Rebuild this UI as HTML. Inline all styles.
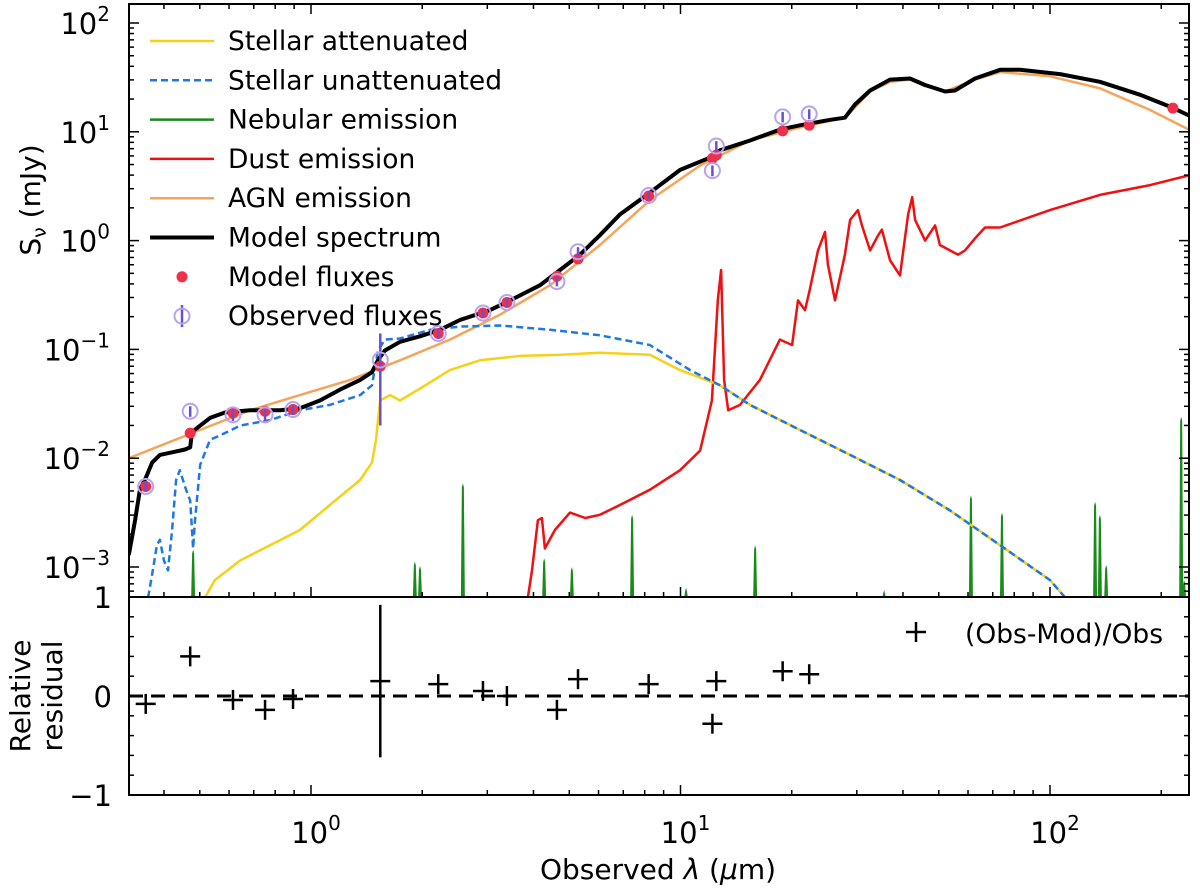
<!DOCTYPE html>
<html><head><meta charset="utf-8"><style>
html,body{margin:0;padding:0;background:#fff;}
svg{display:block;font-family:"DejaVu Sans","Liberation Sans",sans-serif;}
</style></head><body>
<svg id="chart" width="1200" height="892" viewBox="0 0 1200 892" xmlns="http://www.w3.org/2000/svg">
<defs><clipPath id="clipMain"><rect x="129" y="4" width="1060" height="593"/></clipPath>
<clipPath id="clipRes"><rect x="129" y="597" width="1060" height="198"/></clipPath></defs>
<g id="main"></g>
<g id="res"></g>
</svg>
<script>
// ---- data (log10 wavelength in µm, log10 flux in mJy) ----
const modelLogWave=[-0.493,-0.476,-0.463,-0.447,-0.430,-0.409,-0.368,-0.341,-0.327,-0.322,-0.300,-0.273,-0.233,-0.165,-0.084,-0.030,0.024,0.078,0.133,0.165,0.181,0.200,0.241,0.295,0.349,0.403,0.484,0.539,0.620,0.674,0.728,0.782,0.836,0.917,0.999,1.085,1.107,1.188,1.269,1.323,1.405,1.445,1.472,1.513,1.567,1.621,1.662,1.716,1.743,1.797,1.865,1.919,2.027,2.135,2.244,2.333,2.376];
const modelLogFlux=[-2.89,-2.57,-2.29,-2.18,-2.04,-1.97,-1.94,-1.92,-1.90,-1.76,-1.70,-1.63,-1.58,-1.56,-1.56,-1.54,-1.47,-1.37,-1.28,-1.21,-1.10,-1.01,-0.93,-0.88,-0.82,-0.73,-0.64,-0.55,-0.41,-0.27,-0.13,0.05,0.24,0.44,0.65,0.77,0.83,0.92,1.02,1.06,1.11,1.13,1.25,1.38,1.48,1.49,1.43,1.37,1.38,1.49,1.57,1.57,1.53,1.46,1.34,1.22,1.15];
const agnLogWave=[-0.493,-0.300,-0.165,-0.030,0.106,0.241,0.376,0.512,0.647,0.782,0.917,1.053,1.188,1.323,1.445,1.513,1.567,1.621,1.662,1.716,1.797,1.865,2.000,2.135,2.271,2.376];
const agnLogFlux=[-2.00,-1.74,-1.56,-1.42,-1.28,-1.10,-0.91,-0.68,-0.41,-0.04,0.37,0.69,0.92,1.04,1.13,1.37,1.46,1.48,1.42,1.37,1.48,1.55,1.51,1.40,1.20,1.02];
const unattLogWave=[-0.441,-0.430,-0.417,-0.409,-0.398,-0.387,-0.376,-0.365,-0.355,-0.338,-0.327,-0.319,-0.314,-0.300,-0.273,-0.246,-0.192,-0.111,-0.030,0.051,0.133,0.165,0.181,0.200,0.241,0.322,0.403,0.512,0.647,0.782,0.917,1.026,1.107,1.188,1.323,1.459,1.594,1.729,1.865,2.000,2.041];
const unattLogFlux=[-3.28,-3.07,-2.80,-2.75,-2.94,-3.03,-2.66,-2.20,-2.11,-2.29,-2.39,-2.83,-2.57,-2.06,-1.83,-1.79,-1.70,-1.65,-1.56,-1.51,-1.42,-1.33,-1.01,-0.91,-0.90,-0.82,-0.79,-0.78,-0.82,-0.87,-0.96,-1.19,-1.33,-1.51,-1.74,-1.97,-2.20,-2.48,-2.80,-3.12,-3.28];
const attLogWave=[-0.287,-0.260,-0.192,-0.111,-0.030,0.051,0.133,0.165,0.176,0.187,0.214,0.241,0.295,0.376,0.457,0.566,0.674,0.782,0.917,0.999,1.107,1.188,1.323,1.459,1.594,1.729,1.865,2.000,2.041];
const attLogFlux=[-3.28,-3.12,-2.94,-2.80,-2.66,-2.43,-2.20,-2.04,-1.83,-1.47,-1.42,-1.47,-1.36,-1.19,-1.10,-1.06,-1.05,-1.03,-1.05,-1.19,-1.33,-1.51,-1.74,-1.97,-2.20,-2.48,-2.80,-3.12,-3.28];
const dustLogWave=[0.587,0.598,0.614,0.625,0.633,0.660,0.701,0.742,0.782,0.836,0.917,0.999,1.053,1.085,1.101,1.110,1.118,1.129,1.161,1.215,1.269,1.302,1.318,1.337,1.350,1.372,1.391,1.399,1.418,1.445,1.459,1.480,1.491,1.513,1.535,1.545,1.567,1.594,1.616,1.627,1.635,1.662,1.689,1.702,1.729,1.751,1.770,1.797,1.824,1.865,2.000,2.135,2.271,2.376];
const dustLogFlux=[-3.28,-3.03,-2.57,-2.55,-2.83,-2.66,-2.50,-2.55,-2.52,-2.43,-2.29,-2.11,-1.93,-1.47,-0.55,-0.27,-1.28,-1.56,-1.51,-1.28,-0.91,-0.96,-0.55,-0.64,-0.45,-0.09,0.08,-0.22,-0.55,-0.13,0.19,0.28,0.14,-0.09,0.05,0.10,-0.18,-0.32,0.24,0.40,0.19,0.00,0.14,-0.04,-0.09,-0.13,-0.09,0.02,0.12,0.12,0.28,0.42,0.51,0.60];
const nebLogWave=[-0.319,0.281,0.295,0.411,0.631,0.706,0.869,1.015,1.202,1.551,1.786,1.870,2.122,2.135,2.152,2.355,2.363];
const nebLogFlux=[-2.84,-2.95,-2.99,-2.23,-2.92,-3.00,-2.52,-3.19,-2.80,-3.21,-2.34,-2.50,-2.40,-2.52,-2.98,-1.62,-3.12];
// photometry (µm, mJy)
const fluxWave=[0.357,0.471,0.615,0.751,0.894,1.54,2.21,2.92,3.39,4.63,5.28,8.2,12.2,12.5,18.9,22.3,215];
const modelFlux=[0.0055,0.017,0.026,0.027,0.028,0.070,0.14,0.216,0.27,0.47,0.68,2.57,5.7,6.1,10.2,11.5,16.5];
const obsFlux=[0.0055,0.027,0.025,0.025,0.028,0.080,0.14,0.216,0.27,0.42,0.79,2.6,4.4,7.4,13.7,14.6,null];
const obsErr=[0.0006,0.003,0.003,0.003,0.003,0.06,0.015,0.02,0.025,0.04,0.08,0.25,0.5,0.8,1.5,1.5,null];
const residual=[-0.08,0.40,-0.04,-0.14,-0.03,0.15,0.12,0.05,0.0,-0.14,0.17,0.12,-0.28,0.15,0.25,0.22];
const residualErr=[0.09,0.03,0.04,0.03,0.06,0.77,0.09,0.06,0.02,0.03,0.02,0.03,0.03,0.03,0.08,0.04];
const yTickExp=[-3,-2,-1,0,1,2];
const xTickExp=[0,1,2];
const resTicks=[1,0,-1];
const legendLabels=["Stellar attenuated","Stellar unattenuated","Nebular emission","Dust emission","AGN emission","Model spectrum","Model fluxes","Observed fluxes"];

const NS="http://www.w3.org/2000/svg";
const L=129,R=1189,T=4,MB=597,RB=795;
const X0=311,DEC=369.5,Y2=23,YDEC=108.8;
const xl=lw=>X0+lw*DEC;
const x=w=>xl(Math.log10(w));
const yl=ls=>Y2+(2-ls)*YDEC;
const y=s=>yl(Math.log10(s));
const yr=v=>696-v*99;
const main=document.getElementById('main'),res=document.getElementById('res');
function mk(tag,attrs,parent){const e=document.createElementNS(NS,tag);for(const k in attrs)e.setAttribute(k,attrs[k]);parent.appendChild(e);return e;}

const gm=mk('g',{'clip-path':'url(#clipMain)'},main);
function curve(lw,ls,stroke,width,dash,name){
  let d=lw.map((v,i)=>(i?'L':'M')+xl(v).toFixed(1)+','+yl(ls[i]).toFixed(1)).join('');
  const p=mk('path',{d:d,fill:'none',stroke:stroke,'stroke-width':width,'stroke-linejoin':'round'},gm);
  if(dash)p.setAttribute('stroke-dasharray',dash);
  
  
}
nebLogWave.forEach((lw,i)=>{
  const cx=xl(lw),ty=yl(nebLogFlux[i]);
  const p=mk('path',{d:`M${cx-2},${MB+2}L${cx-1},${ty+4}L${cx},${ty}L${cx+1},${ty+4}L${cx+2},${MB+2}Z`,fill:'#1a8a1a'},gm);
  
  
});
curve(dustLogWave,dustLogFlux,'#f01010',2.5,null,'dust-emission-curve');
curve(agnLogWave,agnLogFlux,'#f5a55a',2.5,null,'agn-emission-curve');
curve(attLogWave,attLogFlux,'#f7d117',2.5,null,'stellar-attenuated-curve');
curve(unattLogWave,unattLogFlux,'#1f78e0',2.5,'7,4','stellar-unattenuated-curve');
curve(modelLogWave,modelLogFlux,'#000',4,null,'model-spectrum-curve');
fluxWave.forEach((w,i)=>{
  const c=mk('circle',{cx:x(w),cy:y(modelFlux[i]),r:5.5,fill:'#f0304a'},gm);
  
  
});
fluxWave.forEach((w,i)=>{
  if(obsFlux[i]==null)return;
  const cx=x(w);
  const l=mk('line',{x1:cx,x2:cx,y1:y(obsFlux[i]+obsErr[i]),y2:y(Math.max(obsFlux[i]-obsErr[i],1e-4)),stroke:'#6a4fd0','stroke-width':2.5},gm);
  
  
  const c=mk('circle',{cx:cx,cy:y(obsFlux[i]),r:7.5,fill:'none',stroke:'#b9a3ec','stroke-width':2},gm);
  
  
});
const lg=mk('g',{},main);


const lcol=['#f7d117','#1f78e0','#1a8a1a','#f01010','#f5a55a','#000'];
legendLabels.forEach((t,i)=>{
  const yy=41+i*39.3;
  if(i<6){const l=mk('line',{x1:150,x2:214,y1:yy,y2:yy,stroke:lcol[i],'stroke-width':i==5?4:2.5},lg);
    if(i==1)l.setAttribute('stroke-dasharray','7,4');}
  else if(i==6){mk('circle',{cx:182,cy:yy,r:5.5,fill:'#f0304a'},lg);}
  else {mk('line',{x1:182,x2:182,y1:yy-11,y2:yy+11,stroke:'#6a4fd0','stroke-width':2.5},lg);mk('circle',{cx:182,cy:yy,r:7.5,fill:'none',stroke:'#b9a3ec','stroke-width':2},lg);}
  const tx=mk('text',{x:228,y:yy+9,'font-size':26.5,fill:'#000'},lg);tx.textContent=t;
  
  
});
mk('rect',{x:L,y:T,width:R-L,height:MB-T,fill:'none',stroke:'#000','stroke-width':2},main);
const tk=mk('g',{stroke:'#000','stroke-width':1.5},main);
for(let e=-4;e<=2;e++){for(let m=1;m<10;m++){const yy=y(m*Math.pow(10,e));if(yy<T||yy>MB)continue;const len=m==1?10:5;
  mk('line',{x1:L,x2:L+len,y1:yy,y2:yy},tk);mk('line',{x1:R,x2:R-len,y1:yy,y2:yy},tk);}}
for(let e=-1;e<=2;e++){for(let m=1;m<10;m++){const xx=x(m*Math.pow(10,e));if(xx<L||xx>R)continue;const len=m==1?10:5;
  mk('line',{x1:xx,x2:xx,y1:T,y2:T+len},tk);mk('line',{x1:xx,x2:xx,y1:MB,y2:MB-len},tk);
  mk('line',{x1:xx,x2:xx,y1:RB,y2:RB-len},tk);}}
yTickExp.forEach(e=>{
  const t=mk('text',{x:110,y:y(Math.pow(10,e))+11,'font-size':29,'text-anchor':'end',fill:'#000'},main);
  t.innerHTML='10<tspan dy="-13" font-size="20">'+(e<0?'\u2212'+(-e):e)+'</tspan>';
  
  
});
const yt=mk('text',{transform:'translate(40,200) rotate(-90)','font-size':28,'text-anchor':'middle',fill:'#000'},main);
yt.innerHTML='S<tspan dy="6" font-size="19">ν</tspan><tspan dy="-6"> (mJy)</tspan>';


const gr=mk('g',{'clip-path':'url(#clipRes)'},res);
mk('line',{x1:L,x2:R,y1:yr(0),y2:yr(0),stroke:'#000','stroke-width':3,'stroke-dasharray':'14,8'},gr);
residual.forEach((v,i)=>{
  const cx=x(fluxWave[i]),cy=yr(v);
  const g=mk('g',{stroke:'#000','stroke-width':2.5},gr);
  
  
  mk('line',{x1:cx-10,x2:cx+10,y1:cy,y2:cy},g);
  const h=Math.max(10,residualErr[i]*99);
  mk('line',{x1:cx,x2:cx,y1:cy-h,y2:cy+h},g);
});
const rl=mk('g',{stroke:'#000','stroke-width':2.5},res);


mk('line',{x1:906,x2:926,y1:632,y2:632},rl);mk('line',{x1:916,x2:916,y1:622,y2:642},rl);
const rlt=mk('text',{x:965,y:643,'font-size':26.5,fill:'#000',stroke:'none'},rl);rlt.textContent='(Obs-Mod)/Obs';
mk('rect',{x:L,y:MB,width:R-L,height:RB-MB,fill:'none',stroke:'#000','stroke-width':2},res);
const rt=mk('g',{stroke:'#000','stroke-width':1.5},res);
for(let v=-1;v<=1.001;v+=0.2){const yy=yr(v);const len=Math.abs(Math.round(v*10))%10==0?10:5;
  mk('line',{x1:L,x2:L+len,y1:yy,y2:yy},rt);mk('line',{x1:R,x2:R-len,y1:yy,y2:yy},rt);}
resTicks.forEach(v=>{
  const t=mk('text',{x:112,y:yr(v)+11,'font-size':29,'text-anchor':'end',fill:'#000'},res);
  t.textContent=v<0?'\u2212'+(-v):String(v);
  
  
});
const r1=mk('text',{transform:'translate(30,696) rotate(-90)','font-size':28,'text-anchor':'middle',fill:'#000'},res);r1.textContent='Relative';


const r2=mk('text',{transform:'translate(62,696) rotate(-90)','font-size':28,'text-anchor':'middle',fill:'#000'},res);r2.textContent='residual';


xTickExp.forEach(e=>{
  const t=mk('text',{x:x(Math.pow(10,e))+5,y:843,'font-size':29,'text-anchor':'middle',fill:'#000'},res);
  t.innerHTML='10<tspan dy="-13" font-size="20">'+e+'</tspan>';
  
  
});
const xt=mk('text',{x:658,y:879,'font-size':28,'text-anchor':'middle',fill:'#000'},res);
xt.innerHTML='Observed <tspan font-style="italic">λ</tspan> (<tspan font-style="italic">μ</tspan>m)';


</script>
</body></html>
